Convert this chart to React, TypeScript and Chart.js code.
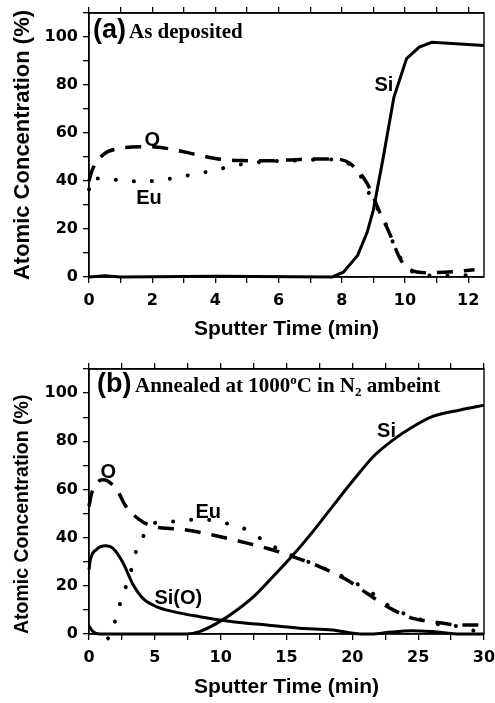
import { useEffect, useRef } from 'react';
import { Chart, registerables } from 'chart.js';

Chart.register(...registerables);

// ---------- Panel (a): as deposited ----------
const siTimeA = [0, 0.5, 1, 4, 7.7, 8.05, 8.5, 8.8, 9.0, 9.3, 9.65, 10.05, 10.45, 10.85, 12.5];
const siA = [0, 0.5, 0, 0.3, 0, 2, 9, 18.5, 28, 49, 75, 91, 95.8, 97.8, 96.5];

const oTimeA = [0, 0.1, 0.45, 1.0, 1.6, 2.1, 2.7, 3.4, 4.0, 4.8, 5.6, 6.7, 7.7, 8.25, 8.8, 9.2, 9.5, 9.85, 10.1, 10.7, 11.7, 12.2];
const oA = [40, 44.5, 51, 53.6, 54.3, 54.2, 53, 51, 49.4, 48.5, 48.4, 49, 49.2, 47.4, 39, 27, 18.5, 7.5, 3.5, 1.8, 2.4, 3];

const euTimeA = [0, 0.05, 0.5, 1.1, 1.7, 2.3, 2.9, 3.5, 4.1, 4.7, 5.5, 6.5, 7.5, 8.1, 8.6, 9.0, 9.3, 9.6, 10.0, 10.5, 11.3, 12.2];
const euA = [36.5, 41, 41, 40.1, 39.8, 40.4, 41.8, 43.2, 44.9, 46.7, 48, 48.5, 49, 48, 42, 31, 25, 15, 5, 1, 0.5, 0.8];

// ---------- Panel (b): annealed at 1000 °C in N2 ----------
const siTimeB = [0, 0.3, 0.8, 3, 7.4, 8.4, 9.7, 10.9, 12.5, 14, 15.5, 17, 18.5, 20.1, 21.6, 23.1, 24.6, 26.1, 28.2, 30];
const siB = [3.3, 1, 0, 0, 0, 1, 4.4, 8.6, 15.5, 24, 32.8, 42.5, 53, 64, 73.7, 80.6, 86, 90.3, 93, 95];

const siOTimeB = [0, 0.1, 0.55, 1.3, 1.8, 2.6, 3.3, 4.1, 5.1, 6.4, 8.4, 10.9, 13.5, 16, 18.5, 20.6, 21.6, 22.6, 24.6, 26.1, 28.2, 30];
const siOB = [26.6, 30.7, 35, 36.6, 35.6, 29.4, 21, 14.8, 11.4, 9.3, 7.2, 5.1, 3.7, 2.4, 1.7, 0, 0, 0.6, 1.4, 1, 0, 0];

const oTimeB = [0, 0.2, 1.06, 2.1, 2.8, 3.85, 4.86, 5.9, 7.4, 9.4, 11.5, 13.5, 15.5, 17.5, 19.6, 21.1, 23.1, 24.6, 26.1, 28.2, 30];
const oB = [53, 58.4, 64, 60, 53, 47.4, 44.6, 43.9, 43.2, 41.1, 38.4, 35.6, 32.1, 28, 22.4, 16.9, 10, 6.5, 5.1, 3.7, 3.7];

const euTimeB = [1.45, 2.1, 2.5, 3.0, 3.65, 4.3, 4.9, 6.0, 7.65, 8.9, 10.4, 12.0, 13.2, 14.8, 16, 17.5, 19.6, 21.5, 23.1, 24.6, 26.1, 27.5, 29, 30];
const euB = [-1.8, 7.2, 15.5, 22.4, 35.6, 42, 46, 46.5, 47.4, 47.4, 46, 43.2, 39, 34, 31.4, 28, 23, 17, 10.5, 7.2, 4.4, 3.7, 1.7, 0];

// Axis ranges and tick steps
const Y_MAX = 110;
const Y_STEP = 10;
const Y_LABEL_EVERY = 20;
const X_MAX_A = 12.5;
const X_STEP_A = 1;
const X_LABEL_EVERY_A = 2;
const X_MAX_B = 30;
const X_STEP_B = 2.5;
const X_LABEL_EVERY_B = 5;

const X_TITLE = 'Sputter Time (min)';
const Y_TITLE = 'Atomic Concentration (%)';

const SANS = '"Liberation Sans", Arial, Helvetica, sans-serif';
const SERIF = '"Liberation Serif", "Times New Roman", serif';
const TICK_FAMILY = '"DejaVu Sans", sans-serif';

type Pt = { x: number; y: number };
const pts = (xs: number[], ys: number[]): Pt[] => xs.map((x, i) => ({ x, y: ys[i] }));

type Style = 'solid' | 'dash' | 'dot';
interface Series { name: string; data: Pt[]; style: Style; smooth: boolean }
interface Label { text: string; x: number; y: number }
interface Segment { text: string; size: number; shift: number }
interface Panel {
  height: number;
  top: number;
  bottom: number;
  xMax: number;
  xStep: number;
  xLabelEvery: number;
  xTitlePad: number;
  yTitleSize: number;
  yTitlePad: number;
  yTitleAlign: 'center' | 'start';
  series: Series[];
  labels: Label[];
  tag: string;
  tagDx: number;
  captionDx: number;
  captionDy: number;
  caption: Segment[];
}

const panelA: Panel = {
  height: 350,
  top: 13,
  bottom: 73,
  xMax: X_MAX_A,
  xStep: X_STEP_A,
  xLabelEvery: X_LABEL_EVERY_A,
  xTitlePad: 8,
  yTitleSize: 22,
  yTitlePad: 10,
  yTitleAlign: 'center',
  series: [
    { name: 'Si', data: pts(siTimeA, siA), style: 'solid', smooth: false },
    { name: 'O', data: pts(oTimeA, oA), style: 'dash', smooth: true },
    { name: 'Eu', data: pts(euTimeA, euA), style: 'dot', smooth: true },
  ],
  labels: [
    { text: 'Si', x: 9.33, y: 77.5 },
    { text: 'O', x: 2.0, y: 54.4 },
    { text: 'Eu', x: 1.9, y: 30.4 },
  ],
  tag: '(a)',
  tagDx: 4,
  captionDx: 40,
  captionDy: 25,
  caption: [{ text: 'As deposited', size: 21, shift: 0 }],
};

const panelB: Panel = {
  height: 353,
  top: 19,
  bottom: 69,
  xMax: X_MAX_B,
  xStep: X_STEP_B,
  xLabelEvery: X_LABEL_EVERY_B,
  xTitlePad: 3,
  yTitleSize: 19.5,
  yTitlePad: 11,
  yTitleAlign: 'start',
  series: [
    { name: 'Si', data: pts(siTimeB, siB), style: 'solid', smooth: true },
    { name: 'Si(O)', data: pts(siOTimeB, siOB), style: 'solid', smooth: true },
    { name: 'O', data: pts(oTimeB, oB), style: 'dash', smooth: true },
    { name: 'Eu', data: pts(euTimeB, euB), style: 'dot', smooth: true },
  ],
  labels: [
    { text: 'Si', x: 22.6, y: 81.9 },
    { text: 'O', x: 1.46, y: 64.9 },
    { text: 'Eu', x: 9.06, y: 48 },
    { text: 'Si(O)', x: 6.78, y: 12.6 },
  ],
  tag: '(b)',
  tagDx: 8,
  captionDx: 46,
  captionDy: 23,
  caption: [
    { text: 'Annealed at 1000', size: 21, shift: 0 },
    { text: 'o', size: 13, shift: -8 },
    { text: 'C in N', size: 21, shift: 0 },
    { text: '2', size: 13, shift: 4 },
    { text: ' ambeint', size: 21, shift: 0 },
  ],
};

const lineStyle = (s: Style) => {
  if (s === 'dash') return { borderWidth: 3.5, borderDash: [16, 11], borderCapStyle: 'butt' as const };
  if (s === 'dot') return { borderWidth: 4, borderDash: [0.1, 18], borderCapStyle: 'round' as const };
  return { borderWidth: 3, borderDash: [], borderCapStyle: 'butt' as const };
};

const overlay = (p: Panel) => ({
  id: 'overlay',
  afterDatasetsDraw(chart: Chart) {
    const { ctx, chartArea, scales } = chart;
    ctx.save();
    ctx.strokeStyle = '#000';
    ctx.lineWidth = 1.4;
    ctx.strokeRect(chartArea.left, chartArea.top, chartArea.right - chartArea.left, chartArea.bottom - chartArea.top);

    ctx.fillStyle = '#000';
    ctx.textBaseline = 'alphabetic';
    ctx.textAlign = 'center';
    ctx.font = `bold 20px ${SANS}`;
    for (const l of p.labels) {
      ctx.fillText(l.text, scales.x.getPixelForValue(l.x), scales.y.getPixelForValue(l.y));
    }

    ctx.textAlign = 'left';
    const base = chartArea.top + p.captionDy;
    ctx.font = `bold 27px ${SANS}`;
    ctx.fillText(p.tag, chartArea.left + p.tagDx, base);
    let cx = chartArea.left + p.captionDx;
    for (const seg of p.caption) {
      ctx.font = `bold ${seg.size}px ${SERIF}`;
      ctx.fillText(seg.text, cx, base + seg.shift);
      cx += ctx.measureText(seg.text).width;
    }
    ctx.restore();
  },
});

const isMultiple = (v: number, step: number) => Math.abs(v / step - Math.round(v / step)) < 1e-6;

function buildChart(canvas: HTMLCanvasElement, p: Panel) {
  const tickFont = { family: TICK_FAMILY, size: 16, weight: 'bold' as const };
  const grid = {
    drawOnChartArea: false,
    drawTicks: true,
    tickLength: 6,
    color: '#000',
    lineWidth: 1.3,
  };
  const border = { display: true, color: '#000', width: 1.4 };
  const noPad = (s: any) => {
    s.paddingLeft = 0;
    s.paddingRight = 0;
    s.paddingTop = 0;
    s.paddingBottom = 0;
  };
  return new Chart(canvas, {
    type: 'line',
    data: {
      datasets: p.series.map((s) => ({
        label: s.name,
        data: s.data,
        borderColor: '#000',
        backgroundColor: '#000',
        pointRadius: 0,
        fill: false,
        clip: false as any,
        tension: s.smooth ? 0.4 : 0,
        cubicInterpolationMode: s.smooth ? ('monotone' as const) : ('default' as const),
        ...lineStyle(s.style),
      })),
    },
    options: {
      animation: false,
      responsive: false,
      devicePixelRatio: 1,
      events: [],
      layout: { padding: { left: 0, right: 11, top: 0, bottom: 0 } },
      plugins: { legend: { display: false }, tooltip: { enabled: false }, title: { display: false } },
      scales: {
        x: {
          type: 'linear',
          position: 'bottom',
          min: 0,
          max: p.xMax,
          grid,
          border,
          ticks: {
            stepSize: p.xStep,
            includeBounds: false,
            autoSkip: false,
            maxRotation: 0,
            padding: 8,
            color: '#000',
            font: tickFont,
            callback: (v: any) => (isMultiple(Number(v), p.xLabelEvery) ? String(v) : ''),
          },
          title: {
            display: true,
            text: X_TITLE,
            color: '#000',
            font: { family: SANS, size: 21, weight: 'bold' },
            padding: { top: 0, bottom: p.xTitlePad },
          },
          afterFit: (s: any) => {
            s.height = p.bottom;
            noPad(s);
          },
        },
        xTop: {
          type: 'linear',
          position: 'top',
          min: 0,
          max: p.xMax,
          grid,
          border,
          ticks: { display: false, stepSize: p.xStep, includeBounds: false, autoSkip: false },
          afterFit: (s: any) => {
            s.height = p.top;
            noPad(s);
          },
        },
        y: {
          type: 'linear',
          position: 'left',
          min: 0,
          max: Y_MAX,
          grid,
          border,
          ticks: {
            stepSize: Y_STEP,
            autoSkip: false,
            padding: 5,
            color: '#000',
            font: tickFont,
            callback: (v: any) => {
              const n = Number(v);
              return isMultiple(n, Y_LABEL_EVERY) && n <= 100 ? String(n) : '';
            },
          },
          title: {
            display: true,
            text: Y_TITLE,
            align: p.yTitleAlign,
            color: '#000',
            font: { family: SANS, size: p.yTitleSize, weight: 'bold' },
            padding: { top: p.yTitlePad, bottom: 0 },
          },
          afterFit: (s: any) => {
            s.width = 89;
            noPad(s);
          },
        },
      },
    } as any,
    plugins: [overlay(p)],
  });
}

function PanelCanvas({ panel, top }: { panel: Panel; top: number }) {
  const ref = useRef<HTMLCanvasElement | null>(null);
  useEffect(() => {
    if (!ref.current) return;
    const chart = buildChart(ref.current, panel);
    return () => chart.destroy();
  }, [panel]);
  return (
    <canvas
      ref={ref}
      width={495}
      height={panel.height}
      style={{ position: 'absolute', left: 0, top, width: 495, height: panel.height, display: 'block' }}
    />
  );
}

export default function App() {
  return (
    <div style={{ position: 'fixed', left: 0, top: 0, width: 495, height: 703, background: '#fff' }}>
      <PanelCanvas panel={panelA} top={0} />
      <PanelCanvas panel={panelB} top={350} />
    </div>
  );
}
